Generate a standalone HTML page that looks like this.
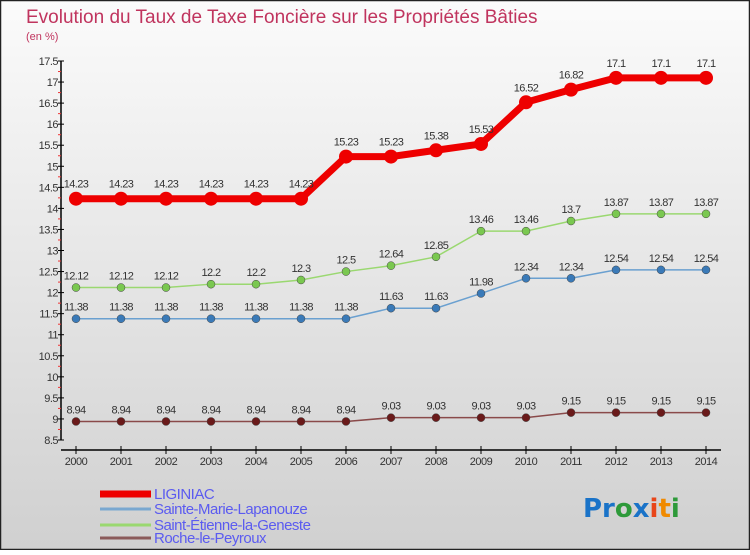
<!DOCTYPE html>
<html><head><meta charset="utf-8">
<style>
html,body{margin:0;padding:0}
body{width:750px;height:550px;overflow:hidden;font-family:"Liberation Sans",sans-serif}
</style></head>
<body>
<svg id="chart" width="750" height="550" xmlns="http://www.w3.org/2000/svg">
<defs><linearGradient id="bg" x1="0" y1="0" x2="0" y2="1"><stop offset="0" stop-color="#fbfbfb"/><stop offset="1" stop-color="#d0d0d0"/></linearGradient></defs>
<rect x="0.5" y="0.5" width="749" height="549" fill="url(#bg)" stroke="#222" stroke-width="1.5"/>
<text x="26" y="23" font-size="19" fill="#c0345e">Evolution du Taux de Taxe Foncière sur les Propriétés Bâties</text>
<text x="26" y="40" font-size="11" fill="#c0345e">(en %)</text>
<g id="axes"></g>
<g id="series"></g>
<g id="legend"></g>
<text x="583" y="517" font-size="26" font-family="DejaVu Sans,sans-serif" font-weight="bold"><tspan fill="#1a73c8">Pr</tspan><tspan fill="#2e9a3a">o</tspan><tspan fill="#1a73c8">x</tspan><tspan fill="#e8461a">i</tspan><tspan fill="#f08a00">t</tspan><tspan fill="#2e9a3a">i</tspan></text>
</svg>
<script>
const years=[2000,2001,2002,2003,2004,2005,2006,2007,2008,2009,2010,2011,2012,2013,2014];
const liginiac=[14.23,14.23,14.23,14.23,14.23,14.23,15.23,15.23,15.38,15.53,16.52,16.82,17.1,17.1,17.1];
const sainteMarie=[11.38,11.38,11.38,11.38,11.38,11.38,11.38,11.63,11.63,11.98,12.34,12.34,12.54,12.54,12.54];
const saintEtienne=[12.12,12.12,12.12,12.2,12.2,12.3,12.5,12.64,12.85,13.46,13.46,13.7,13.87,13.87,13.87];
const roche=[8.94,8.94,8.94,8.94,8.94,8.94,8.94,9.03,9.03,9.03,9.03,9.15,9.15,9.15,9.15];
const yTicks=[8.5,9,9.5,10,10.5,11,11.5,12,12.5,13,13.5,14,14.5,15,15.5,16,16.5,17,17.5];
const NS="http://www.w3.org/2000/svg";
const x=i=>76+i*45;
const y=v=>440-(v-8.5)*(379/9);
function mk(tag,attrs,parent,txt){const e=document.createElementNS(NS,tag);for(const k in attrs)e.setAttribute(k,attrs[k]);if(txt!==undefined)e.textContent=txt;parent.appendChild(e);return e;}
const axes=document.getElementById('axes');
let a=mk('line',{x1:61,y1:y(17.5),x2:61,y2:y(8.5),stroke:'#000','stroke-width':1.5},axes);


a=mk('line',{x1:x(0)-15,y1:450,x2:x(14)+15,y2:450,stroke:'#000','stroke-width':1.5},axes);


yTicks.forEach(v=>{
  mk('line',{x1:58,y1:y(v),x2:64,y2:y(v),stroke:'#000'},axes);
  if(v<17.5) mk('line',{x1:58,y1:y(v+0.25),x2:61,y2:y(v+0.25),stroke:'#e33'},axes);
  const t=mk('text',{x:58,y:y(v)+4,'font-size':11,'text-anchor':'end',fill:'#333','letter-spacing':'-0.5'},axes,String(v));
  
  
});
years.forEach((yr,i)=>{
  mk('line',{x1:x(i),y1:446,x2:x(i),y2:454,stroke:'#000'},axes);
  const t=mk('text',{x:x(i),y:465,'font-size':11,'text-anchor':'middle',fill:'#333','letter-spacing':'-0.5'},axes,String(yr));
  
  
});
const seriesDefs=[
 {name:'Roche-le-Peyroux',data:roche,c:'#8a4a4a',dot:'#6a1a1a',w:1.5,r:4},
 {name:'Sainte-Marie-Lapanouze',data:sainteMarie,c:'#6aa0d0',dot:'#3a7ab8',w:1.5,r:4},
 {name:'Saint-Étienne-la-Geneste',data:saintEtienne,c:'#9ad870',dot:'#7ac850',w:1.5,r:4},
 {name:'LIGINIAC',data:liginiac,c:'#ee0000',dot:'#ee0000',w:7,r:7}
];
const sg=document.getElementById('series');
seriesDefs.forEach(s=>{
  const g=mk('g',{},sg);
  
  
  const pl=mk('polyline',{points:s.data.map((v,i)=>x(i)+','+y(v)).join(' '),fill:'none',stroke:s.c,'stroke-width':s.w},g);
  
  
  s.data.forEach((v,i)=>{
    const c=mk('circle',{cx:x(i),cy:y(v),r:s.r,fill:s.dot,stroke:s.r>5?'none':'#444','stroke-width':0.5},g);
    
    
    const t=mk('text',{x:x(i),y:y(v)-(s.r>5?11:8),'font-size':11,'text-anchor':'middle',fill:'#333','letter-spacing':'-0.6'},g,String(v));
    
    
  });
});
const lg=document.getElementById('legend');
const legendDefs=[['LIGINIAC','#ee0000',7,494],['Sainte-Marie-Lapanouze','#7aa8d0',3,509],['Saint-Étienne-la-Geneste','#9ad870',3,525],['Roche-le-Peyroux','#8a5a5a',3,538]];
legendDefs.forEach(d=>{
  const g=mk('g',{},lg);
  
  
  mk('line',{x1:100,y1:d[3],x2:151,y2:d[3],stroke:d[1],'stroke-width':d[2]},g);
  mk('text',{x:154,y:d[3]+5,'font-size':15,fill:'#5b5bf0','letter-spacing':'-0.5'},g,d[0]);
});
</script>
</body></html>
